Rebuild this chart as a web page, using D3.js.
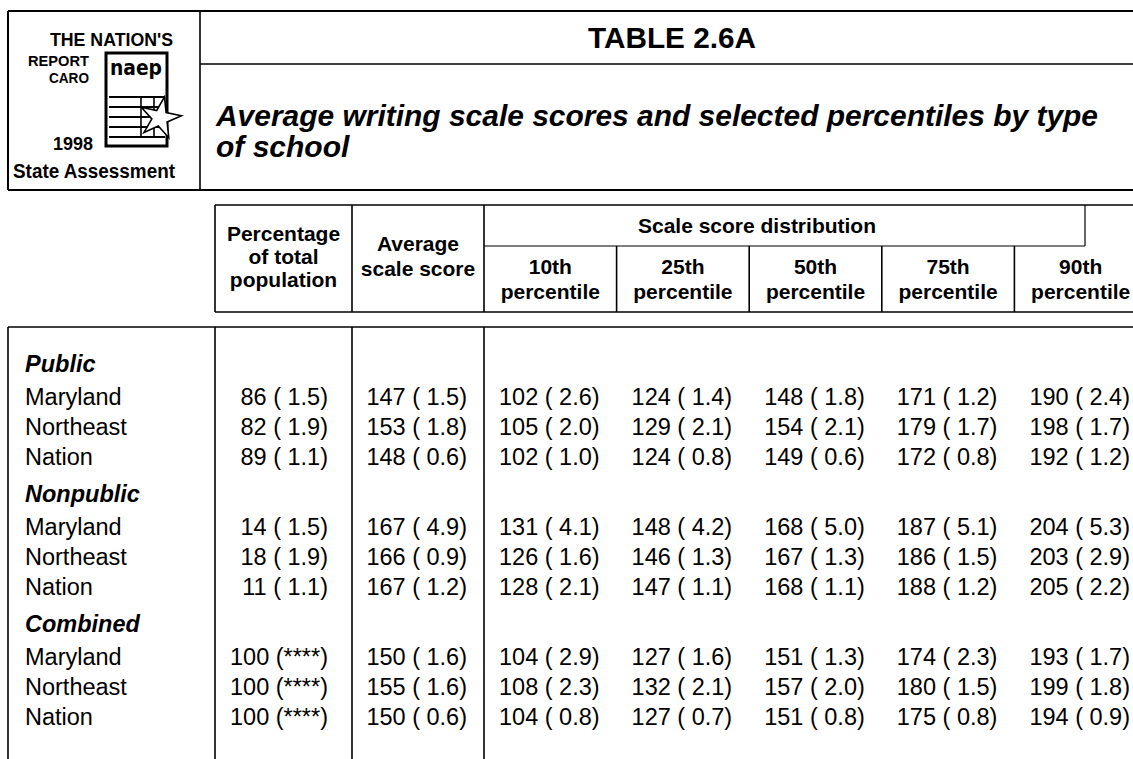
<!DOCTYPE html>
<html>
<head>
<meta charset="utf-8">
<script src="https://cdn.jsdelivr.net/npm/d3@7"></script>
<style>
  html, body { margin: 0; padding: 0; background: #fff; }
  svg { display: block; }
  text { font-family: "Liberation Sans", Arial, Helvetica, sans-serif; fill: #000; }
</style>
</head>
<body>
<div class="chart"></div>
<script>
// Table values
const groups = ['Public', 'Nonpublic', 'Combined'];
const jurisdictions = ['Maryland', 'Northeast', 'Nation'];
const percentiles = ['10th', '25th', '50th', '75th', '90th'];

const pctPop = [86, 82, 89, 14, 18, 11, 100, 100, 100];
const pctPopSE = [1.5, 1.9, 1.1, 1.5, 1.9, 1.1, null, null, null];
const avgScore = [147, 153, 148, 167, 166, 167, 150, 155, 150];
const avgScoreSE = [1.5, 1.8, 0.6, 4.9, 0.9, 1.2, 1.6, 1.6, 0.6];

const p10 = [102, 105, 102, 131, 126, 128, 104, 108, 104];
const p10SE = [2.6, 2.0, 1.0, 4.1, 1.6, 2.1, 2.9, 2.3, 0.8];
const p25 = [124, 129, 124, 148, 146, 147, 127, 132, 127];
const p25SE = [1.4, 2.1, 0.8, 4.2, 1.3, 1.1, 1.6, 2.1, 0.7];
const p50 = [148, 154, 149, 168, 167, 168, 151, 157, 151];
const p50SE = [1.8, 2.1, 0.6, 5.0, 1.3, 1.1, 1.3, 2.0, 0.8];
const p75 = [171, 179, 172, 187, 186, 188, 174, 180, 175];
const p75SE = [1.2, 1.7, 0.8, 5.1, 1.5, 1.2, 2.3, 1.5, 0.8];
const p90 = [190, 198, 192, 204, 203, 205, 193, 199, 194];
const p90SE = [2.4, 1.7, 1.2, 5.3, 2.9, 2.2, 1.7, 1.8, 0.9];

const pctValues = [p10, p25, p50, p75, p90];
const pctSEs = [p10SE, p25SE, p50SE, p75SE, p90SE];

const width = 1133, height = 759;

let svg = d3.select('.chart').append('svg')
    .attr('width', width)
    .attr('height', height);

function fmt(v, se) {
    if (se == null) return v + ' (****)';
    return v + ' ( ' + se.toFixed(1) + ')';
}

function line(x1, y1, x2, y2, w) {
    svg.append('line')
        .attr('x1', x1).attr('y1', y1).attr('x2', x2).attr('y2', y2)
        .attr('stroke', '#000')
        .attr('stroke-width', w || 1.6);
}

// ---- top banner box
line(8, 11, 1150, 11, 2);
line(8, 190, 1150, 190, 2);
line(8, 11, 8, 190, 2);
line(200, 11, 200, 190, 1.6);
line(200, 64, 1150, 64, 1.6);

svg.append('text')
    .attr('x', 672).attr('y', 48)
    .attr('text-anchor', 'middle')
    .attr('font-size', 29).attr('font-weight', 'bold')
    .attr('textLength', 168).attr('lengthAdjust', 'spacingAndGlyphs')
    .text('TABLE 2.6A');

svg.append('text')
    .attr('x', 216).attr('y', 126)
    .attr('font-size', 30).attr('font-weight', 'bold').attr('font-style', 'italic')
    .attr('textLength', 882).attr('lengthAdjust', 'spacingAndGlyphs')
    .text('Average writing scale scores and selected percentiles by type');
svg.append('text')
    .attr('x', 216).attr('y', 157)
    .attr('font-size', 30).attr('font-weight', 'bold').attr('font-style', 'italic')
    .text('of school');

// ---- logo
let logo = svg.append('g');
function logoText(t, x, y, anchor, len, size) {
    logo.append('text')
        .attr('x', x).attr('y', y)
        .attr('text-anchor', anchor)
        .attr('font-size', size).attr('font-weight', 'bold')
        .attr('textLength', len).attr('lengthAdjust', 'spacingAndGlyphs')
        .text(t);
}
logoText("THE NATION'S", 173, 46, 'end', 123, 19);
logoText('REPORT', 89, 66, 'end', 61, 15);
logoText('CARO', 89, 83, 'end', 40, 15);
logoText('1998', 93, 150, 'end', 40, 18);
logoText('State Assessment', 175, 178, 'end', 162, 19.5);

logo.append('rect')
    .attr('x', 106).attr('y', 53).attr('width', 61).attr('height', 93)
    .attr('fill', 'none').attr('stroke', '#000').attr('stroke-width', 3);
logo.append('text')
    .attr('x', 136).attr('y', 75)
    .attr('text-anchor', 'middle')
    .attr('font-size', 22).attr('font-weight', 'bold')
    .attr('textLength', 52).attr('lengthAdjust', 'spacingAndGlyphs')
    .style('font-family', '"DejaVu Sans", sans-serif')
    .text('naep');
[97, 107, 117, 127, 137].forEach(y => {
    logo.append('line').attr('x1', 109).attr('x2', 165).attr('y1', y).attr('y2', y)
        .attr('stroke', '#000').attr('stroke-width', 2);
});
[141, 154].forEach(x => {
    logo.append('line').attr('x1', x).attr('x2', x).attr('y1', 97).attr('y2', 137)
        .attr('stroke', '#000').attr('stroke-width', 1.6);
});
logo.append('path')
    .attr('d', d3.symbol(d3.symbolStar, 520)())
    .attr('transform', 'translate(160,118) rotate(12)')
    .attr('fill', '#fff').attr('stroke', '#000').attr('stroke-width', 1.6);

// ---- column layout
let x = d3.scaleBand().domain(percentiles).range([484, 1147]);
const colPctLeft = 215, colAvgLeft = 352, colAvgRight = 484;

// header box
const hTop = 205, hMid = 246, hBot = 312;
line(colPctLeft, hTop, 1150, hTop);
line(colPctLeft, hBot, 1150, hBot);
line(colPctLeft, hTop, colPctLeft, hBot);
line(colAvgLeft, hTop, colAvgLeft, hBot);
line(colAvgRight, hTop, colAvgRight, hBot);
line(colAvgRight, hMid, 1085, hMid, 1.2);
line(1085, hTop, 1085, hMid, 1.2);
percentiles.forEach((p, i) => {
    if (i > 0) line(x(p), hMid, x(p), hBot);
});

function headText(lines, cx, y0, step) {
    let t = svg.append('text')
        .attr('text-anchor', 'middle')
        .attr('font-size', 21).attr('font-weight', 'bold');
    lines.forEach((l, i) => {
        t.append('tspan').attr('x', cx).attr('y', y0 + i * step).text(l);
    });
}
headText(['Percentage', 'of total', 'population'], (colPctLeft + colAvgLeft) / 2, 241, 23);
headText(['Average', 'scale score'], (colAvgLeft + colAvgRight) / 2, 251, 25);
svg.append('text')
    .attr('x', 757).attr('y', 233)
    .attr('text-anchor', 'middle')
    .attr('font-size', 21).attr('font-weight', 'bold')
    .text('Scale score distribution');
percentiles.forEach(p => {
    headText([p, 'percentile'], x(p) + x.bandwidth() / 2, 274, 25);
});

// body frame
const bTop = 327;
line(8, bTop, 1150, bTop);
[8, colPctLeft, colAvgLeft, colAvgRight].forEach(xx => line(xx, bTop, xx, height + 2));

// rows
let rows = [];
groups.forEach((g, gi) => {
    rows.push({ kind: 'group', label: g });
    jurisdictions.forEach((j, ji) => rows.push({ kind: 'row', label: j, i: gi * 3 + ji }));
});
let yPos = 372;
rows.forEach((r, k) => {
    if (k > 0) {
        let prev = rows[k - 1];
        if (r.kind === 'group') yPos += 37;
        else if (prev.kind === 'group') yPos += 33;
        else yPos += 30;
    }
    r.y = yPos;
});

let body = svg.append('g').attr('font-size', 23.5);

body.selectAll('.rowlabel')
    .data(rows)
    .enter().append('text')
    .attr('class', 'rowlabel')
    .attr('x', 25)
    .attr('y', d => d.y)
    .attr('font-weight', d => d.kind === 'group' ? 'bold' : 'normal')
    .attr('font-style', d => d.kind === 'group' ? 'italic' : 'normal')
    .text(d => d.label);

let dataRows = rows.filter(r => r.kind === 'row');

body.selectAll('.pct')
    .data(dataRows)
    .enter().append('text')
    .attr('x', colAvgLeft - 24)
    .attr('y', d => d.y)
    .attr('text-anchor', 'end')
    .text(d => fmt(pctPop[d.i], pctPopSE[d.i]));

body.selectAll('.avg')
    .data(dataRows)
    .enter().append('text')
    .attr('x', colAvgRight - 17)
    .attr('y', d => d.y)
    .attr('text-anchor', 'end')
    .text(d => fmt(avgScore[d.i], avgScoreSE[d.i]));

percentiles.forEach((p, pi) => {
    body.selectAll('.p' + pi)
        .data(dataRows)
        .enter().append('text')
        .attr('x', x(p) + x.bandwidth() - 17)
        .attr('y', d => d.y)
        .attr('text-anchor', 'end')
        .text(d => fmt(pctValues[pi][d.i], pctSEs[pi][d.i]));
});
</script>
</body>
</html>
